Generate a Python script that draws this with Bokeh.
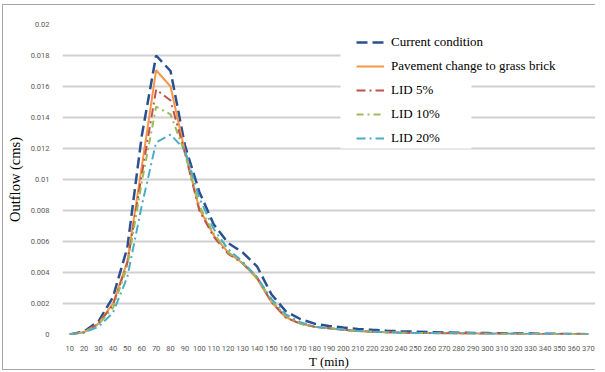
from bokeh.plotting import figure
from bokeh.models import (Range1d, FixedTicker, CustomJSTickFormatter, BoxAnnotation,
                          Legend, LegendItem)
from bokeh.embed import file_html
from bokeh.resources import INLINE

# ---- data ----
t_min = list(range(10, 380, 10))

current = [0, 0.0002, 0.00085, 0.0024, 0.0056, 0.0128, 0.0180, 0.0170, 0.0122, 0.0092,
           0.0071, 0.0059, 0.0053, 0.0044, 0.0026, 0.0015, 0.0010, 0.0007, 0.00055, 0.00045,
           0.00036, 0.0003, 0.00025, 0.00021, 0.00018, 0.00015, 0.00013, 0.00012, 0.0001, 0.00009,
           0.00008, 0.00007, 0.00006, 0.00005, 0.00004, 0.00003, 0.00002]

pavement = [0, 0.00015, 0.0007, 0.0020, 0.0047, 0.0108, 0.01705, 0.0160, 0.0118, 0.0081,
            0.0064, 0.0053, 0.0046, 0.0036, 0.0021, 0.0011, 0.0007, 0.0005, 0.0004, 0.0003,
            0.00023, 0.00018, 0.00015, 0.00012, 0.0001, 0.00009, 0.00008, 0.00007, 0.00006, 0.00005,
            0.00005, 0.00004, 0.00004, 0.00003, 0.00003, 0.00002, 0.00002]

lid5 = [0, 0.00015, 0.0007, 0.0019, 0.0046, 0.0103, 0.0158, 0.0151, 0.0117, 0.0080,
        0.0063, 0.0052, 0.0046, 0.0037, 0.0021, 0.0011, 0.0007, 0.0005, 0.0004, 0.0003,
        0.00023, 0.00018, 0.00015, 0.00012, 0.0001, 0.00009, 0.00008, 0.00007, 0.00006, 0.00005,
        0.00005, 0.00004, 0.00004, 0.00003, 0.00003, 0.00002, 0.00002]

lid10 = [0, 0.00014, 0.00065, 0.0017, 0.0044, 0.0098, 0.0147, 0.0142, 0.0117, 0.0083,
         0.0065, 0.0053, 0.0046, 0.0037, 0.0022, 0.0012, 0.0007, 0.0005, 0.0004, 0.0003,
         0.00023, 0.00018, 0.00015, 0.00012, 0.0001, 0.00009, 0.00008, 0.00007, 0.00006, 0.00005,
         0.00005, 0.00004, 0.00004, 0.00003, 0.00003, 0.00002, 0.00002]

lid20 = [0, 0.00012, 0.0005, 0.0014, 0.0037, 0.0083, 0.0124, 0.0129, 0.0119, 0.0088,
         0.0068, 0.0055, 0.0047, 0.0037, 0.0023, 0.0013, 0.0008, 0.0005, 0.0004, 0.0003,
         0.00023, 0.00018, 0.00015, 0.00012, 0.0001, 0.00009, 0.00008, 0.00007, 0.00006, 0.00005,
         0.00005, 0.00004, 0.00004, 0.00003, 0.00003, 0.00002, 0.00002]

y_ticks = [i * 0.002 for i in range(11)]

series_names = ["Current condition", "Pavement change to grass brick",
                "LID 5%", "LID 10%", "LID 20%"]

# ---- figure ----
p = figure(width=592, height=364, output_backend="svg", toolbar_location=None,
           x_range=Range1d(5, 375), y_range=Range1d(0, 0.02),
           min_border_left=48, min_border_right=1, min_border_top=19, min_border_bottom=31)
p.outline_line_color = None
p.background_fill_color = "white"
p.border_fill_color = "white"
p.styles = {"box-sizing": "content-box",
            "margin-top": "4px",
            "margin-left": "2px",
            "border-left": "1px solid #A6A6A6",
            "border-top": "1px solid #A6A6A6",
            "border-bottom": "1px solid #A6A6A6"}

tick_font = "Roboto"
p.xaxis.ticker = FixedTicker(ticks=t_min)
p.yaxis.ticker = FixedTicker(ticks=y_ticks)
p.yaxis.formatter = CustomJSTickFormatter(code="return String(parseFloat(tick.toFixed(3)));")
for ax in (p.xaxis[0], p.yaxis[0]):
    ax.axis_line_color = None
    ax.major_tick_line_color = None
    ax.minor_tick_line_color = None
    ax.major_label_text_font = tick_font
    ax.major_label_text_font_size = "7.5px"
    ax.major_label_text_color = "#595959"
    ax.axis_label_text_font = "Liberation Serif"
    ax.axis_label_text_font_style = "normal"
    ax.axis_label_text_color = "black"
p.xaxis.major_label_standoff = 5
p.yaxis.major_label_standoff = 7
p.yaxis.axis_label = "Outflow (cms)"
p.yaxis.axis_label_text_font_size = "14.5px"
p.yaxis.axis_label_standoff = 5
p.xaxis.axis_label = "T (min)"
p.xaxis.axis_label_text_font_size = "13px"
p.xaxis.axis_label_standoff = 0

p.xgrid.visible = False
p.ygrid.ticker = FixedTicker(ticks=y_ticks)
p.ygrid.grid_line_color = "#D0D0D0"
p.ygrid.grid_line_width = 2

# ---- lines ----
r_cur = p.line(t_min, current, line_color="#2A5090", line_width=2.5, line_dash="11 5")
r_pav = p.line(t_min, pavement, line_color="#F79646", line_width=2)
r_l5 = p.line(t_min, lid5, line_color="#C0504D", line_width=2, line_dash="9 4 2 4")
r_l10 = p.line(t_min, lid10, line_color="#9BBB59", line_width=2, line_dash="7 4 2 4")
r_l20 = p.line(t_min, lid20, line_color="#4BACC6", line_width=2, line_dash="9 4 2 4")

# ---- white area behind the legend (hides gridlines there) ----
def white_box(l, r, t, b):
    p.add_layout(BoxAnnotation(left=l, right=r, top=t, bottom=b,
                               left_units="screen", right_units="screen",
                               top_units="screen", bottom_units="screen",
                               fill_color="white", fill_alpha=1, line_color=None))

white_box(278, 560, 311, 259)
white_box(278, 409, 259, 186)

legend = Legend(items=[LegendItem(label=n, renderers=[r]) for n, r in
                       zip(series_names, [r_cur, r_pav, r_l5, r_l10, r_l20])],
                location=(289, 181), margin=0, padding=5, spacing=4,
                glyph_width=28, glyph_height=20, label_height=20, label_standoff=7,
                label_text_font="Liberation Serif", label_text_font_size="13px",
                label_text_color="black",
                background_fill_alpha=0, border_line_alpha=0)
p.add_layout(legend)

open("out.html", "w").write(file_html(p, INLINE))
